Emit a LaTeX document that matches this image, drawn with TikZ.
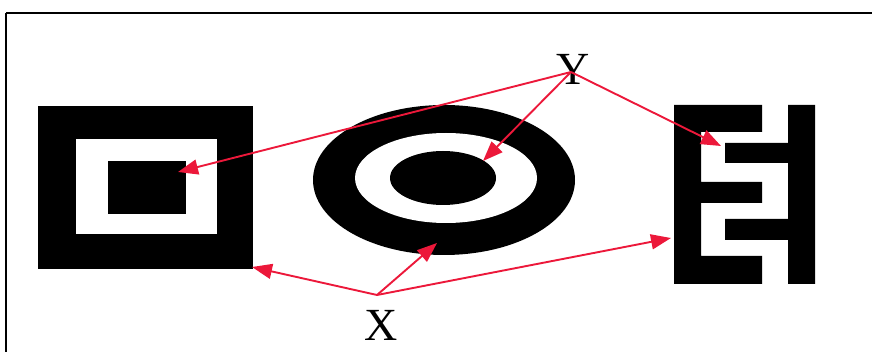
\documentclass[tikz,border=0pt]{standalone}
\usepackage{fontspec}
\setmainfont{Liberation Serif}
\usetikzlibrary{arrows.meta}
\definecolor{markred}{RGB}{236,24,58}
\tikzset{pointer/.style={-{Triangle[length=20pt,width=15pt]},line width=1.9pt,markred},
 blk/.style={fill=black},
 wht/.style={fill=white},
 every node/.style={font=\fontsize{46}{46}\selectfont,inner sep=0pt}}

\begin{document}
\begin{tikzpicture}[x=1pt,y=-1pt]
\useasboundingbox (0,0) rectangle (872,352);
\clip (0,0) rectangle (872,352);
\draw[line width=1.8pt] (6,13) -- (6,360) (6,13) -- (880,13);
\fill[blk] (38,106) rectangle (253,269);
\fill[wht] (76,139) rectangle (217,234);
\fill[blk] (108,161) rectangle (186,214);
\fill[blk] (444,180) ellipse [x radius=131,y radius=75];
\fill[wht] (446,178) ellipse [x radius=91,y radius=45];
\fill[blk] (443,178) ellipse [x radius=53,y radius=27];
\fill[blk] (674,105) rectangle (701,284) (674,105) rectangle (762,132)
 (701,182) rectangle (762,203) (674,256) rectangle (762,284)
 (788,105) rectangle (815,284) (725,143) rectangle (788,163)
 (725,219) rectangle (788,240);
\coordinate (yhub) at (571,72);
\coordinate (xhub) at (377,295);
\coordinate (sqin) at (178,172);
\coordinate (elin) at (483,161);
\coordinate (eup) at (721,146);
\coordinate (sqcorner) at (252,267);
\coordinate (elbot) at (437,243);
\coordinate (elow) at (671,238);
\node[anchor=base] (ylab) at (573,85) {Y};
\node[anchor=base] (xlab) at (381,340) {X};
\draw[pointer] (yhub) -- (sqin);
\draw[pointer] (yhub) -- (elin);
\draw[pointer] (yhub) -- (eup);
\draw[pointer] (xhub) -- (sqcorner);
\draw[pointer] (xhub) -- (elbot);
\draw[pointer] (xhub) -- (elow);
\end{tikzpicture}
\end{document}
